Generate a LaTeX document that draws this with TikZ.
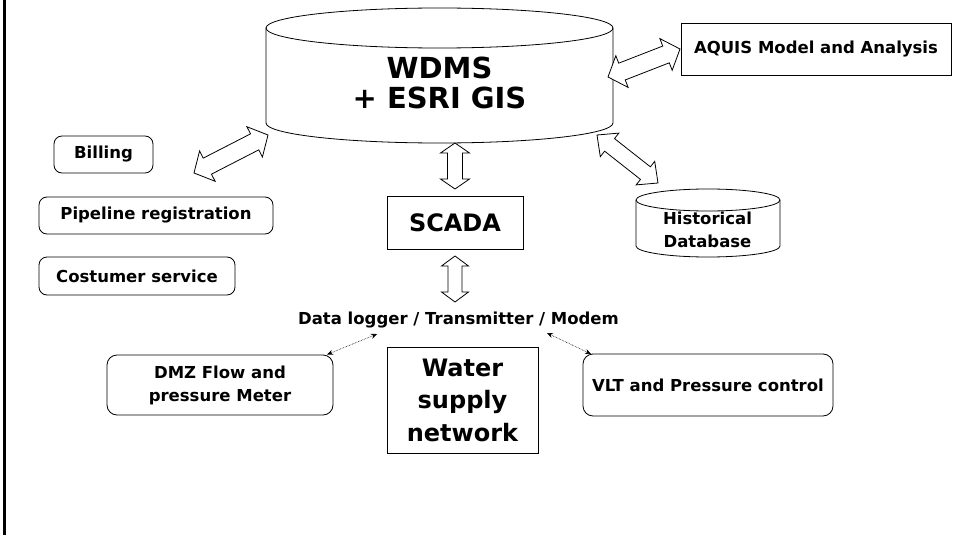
\documentclass[tikz,border=0pt]{standalone}
\usepackage{fontspec}
\setmainfont{DejaVu Sans}
\usetikzlibrary{calc,arrows.meta}
\newcommand\fsz[2]{\fontsize{#1}{#2}\selectfont}
\newcommand\blockarrow[5]{%
 \draw[blockarr] (#1)
 -- ($(#1)!#3!(#2)!#4!90:(#2)$)
 -- ($(#1)!#3!(#2)!#5!90:(#2)$)
 -- ($(#2)!#3!(#1)!#5!-90:(#1)$)
 -- ($(#2)!#3!(#1)!#4!-90:(#1)$)
 -- (#2)
 -- ($(#2)!#3!(#1)!#4!90:(#1)$)
 -- ($(#2)!#3!(#1)!#5!90:(#1)$)
 -- ($(#1)!#3!(#2)!#5!-90:(#2)$)
 -- ($(#1)!#3!(#2)!#4!-90:(#2)$)
 -- cycle;}
\tikzset{
 rbox/.style={draw, line width=0.8pt, rounded corners=8pt, align=center, inner sep=0pt},
 sbox/.style={draw, line width=0.8pt, align=center, inner sep=0pt},
 small/.style={font=\bfseries\fsz{16.5}{23}},
 blockarr/.style={draw, line width=0.8pt, fill=white, line join=miter},
 dotarr/.style={densely dotted, line width=0.6pt, {Stealth[length=6pt,width=5pt]}-{Stealth[length=6pt,width=5pt]}},
 cyl/.style={line width=0.8pt},
}
\begin{document}
\begin{tikzpicture}[x=1pt,y=-1pt]
\useasboundingbox (0,0) rectangle (953,535);
% left frame line
\draw[line width=2.5pt] (4.5,0) -- (4.5,535);

% WDMS cylinder
\draw[cyl] (266,28) -- (266,123) arc[start angle=180, end angle=0, x radius=173.5, y radius=20] -- (613,28);
\draw[cyl] (439.5,28) ellipse [x radius=173.5, y radius=20];
\node[align=center, font=\bfseries\fsz{29}{30}] (wdms) at (439.5,82.5) {WDMS\\+ ESRI GIS};

% Historical database cylinder
\draw[cyl] (636,200) -- (636,246) arc[start angle=180, end angle=0, x radius=72, y radius=11] -- (780,200);
\draw[cyl] (708,200) ellipse [x radius=72, y radius=11];
\node[align=center, small] (hist) at (707.5,229.5) {Historical\\Database};

% boxes
\node[sbox, small, minimum width=270, minimum height=52] (aquis) at (816,49) {AQUIS Model and Analysis};
\node[rbox, small, minimum width=99, minimum height=37] (billing) at (103.5,154.5) {Billing};
\node[rbox, small, minimum width=234, minimum height=37] (pipe) at (156,215.5) {Pipeline registration};
\node[rbox, small, minimum width=196, minimum height=38] (cust) at (137,276) {Costumer service};
\node[sbox, font=\bfseries\fsz{24}{29}, minimum width=136, minimum height=53] (scada) at (455,222.5) {SCADA};
\node[anchor=base, small] (dl) at (458.5,324) {Data logger / Transmitter / Modem};
\node[rbox, small, rounded corners=10pt, minimum width=226, minimum height=60] (dmz) at (220,385) {DMZ Flow and\\pressure Meter};
\node[rbox, small, rounded corners=10pt, minimum width=250, minimum height=62] (vlt) at (708,385) {VLT and Pressure control};
\node[sbox, font=\bfseries\fsz{24}{32.5}, minimum width=151, minimum height=106] (water) at (462.5,400) {Water\\supply\\network};

% block arrow end points
\coordinate (bA) at (194,173); \coordinate (bB) at (268,135);
\coordinate (aA) at (608,77);  \coordinate (aB) at (680,49);
\coordinate (hA) at (597,135); \coordinate (hB) at (658,183);
\coordinate (sA) at (455,143); \coordinate (sB) at (455,189);
\coordinate (tA) at (455,256); \coordinate (tB) at (455,302);

\blockarrow{bA}{bB}{15pt}{17pt}{9pt}
\blockarrow{aA}{aB}{15pt}{17pt}{9pt}
\blockarrow{hA}{hB}{16pt}{15pt}{8pt}
\blockarrow{sA}{sB}{10pt}{14.5pt}{7.5pt}
\blockarrow{tA}{tB}{10pt}{13.5pt}{7pt}

% dotted links
\coordinate (d1) at (377,334); \coordinate (d2) at (327,354.5);
\coordinate (d3) at (547,333); \coordinate (d4) at (591,354);
\draw[dotarr] (d1) -- (d2);
\draw[dotarr] (d3) -- (d4);
\end{tikzpicture}
\end{document}
